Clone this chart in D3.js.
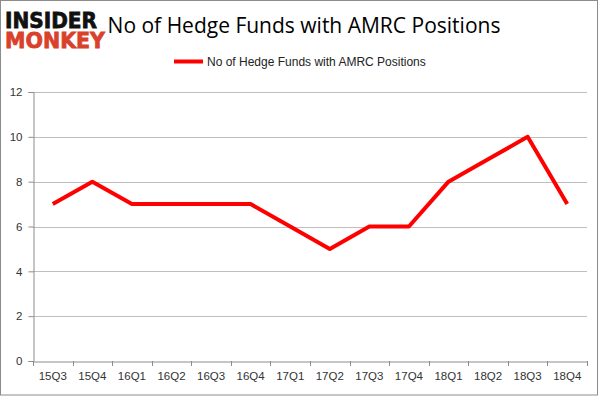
<!DOCTYPE html>
<html><head><meta charset="utf-8">
<script src="https://cdn.jsdelivr.net/npm/d3@7"></script>
<style>body{margin:0;background:#fff}svg{display:block}</style>
</head><body>
<script>
const categories = ["15Q3","15Q4","16Q1","16Q2","16Q3","16Q4","17Q1","17Q2","17Q3","17Q4","18Q1","18Q2","18Q3","18Q4"];
const values = [7,8,7,7,7,7,6,5,6,6,8,9,10,7];
const yTicks = [0,2,4,6,8,10,12];
const seriesName = "No of Hedge Funds with AMRC Positions";
const titleText = "No of Hedge Funds with AMRC Positions";

const W = 601, H = 396;
const svg = d3.select("body").append("svg").attr("width", W).attr("height", H);
svg.append("rect").attr("x",0.5).attr("y",0.5).attr("width",597).attr("height",394.5)
  .attr("fill","#fff").attr("stroke","#8c8c8c").attr("stroke-width",1);

const pLeft = 33, pRight = 587, pTop = 92, pBottom = 361;
const x = d3.scaleBand().domain(categories).range([pLeft, pRight]);
const y = d3.scaleLinear().domain([0, 12]).range([pBottom, pTop]);

// gridlines
svg.append("g").selectAll("line").data(yTicks.filter(d => d > 0)).join("line")
  .attr("x1", pLeft).attr("x2", pRight)
  .attr("y1", d => Math.round(y(d)) + 0.5).attr("y2", d => Math.round(y(d)) + 0.5)
  .attr("stroke", "#bfbfbf").attr("stroke-width", 1);

// y axis
const yAxis = svg.append("g").attr("transform", `translate(${pLeft + 0.5},0)`)
  .call(d3.axisLeft(y).tickValues(yTicks).tickSize(5).tickPadding(6));
yAxis.select(".domain").attr("stroke", "#8c8c8c");
yAxis.selectAll(".tick line").attr("stroke", "#8c8c8c");
yAxis.selectAll("text").attr("font-family", "Liberation Sans, Arial, sans-serif").attr("font-size", 11.5).attr("fill", "#333");

// x axis
const xAxis = svg.append("g").attr("transform", `translate(0,${Math.round(pBottom) + 0.5})`)
  .call(d3.axisBottom(x).tickSize(0).tickPadding(10));
xAxis.select(".domain").attr("stroke", "#8c8c8c");
xAxis.selectAll("text").attr("font-family", "Liberation Sans, Arial, sans-serif").attr("font-size", 11.5).attr("fill", "#333");
// category boundary ticks
const bounds = categories.map(c => x(c)).concat([pRight]);
svg.append("g").selectAll("line").data(bounds).join("line")
  .attr("x1", d => Math.round(d) + 0.5).attr("x2", d => Math.round(d) + 0.5)
  .attr("y1", pBottom).attr("y2", pBottom + 5)
  .attr("stroke", "#8c8c8c");

// line
const line = d3.line().x((d, i) => x(categories[i]) + x.bandwidth() / 2).y(d => y(d));
svg.append("path").datum(values).attr("d", line)
  .attr("fill", "none").attr("stroke", "#ff0000").attr("stroke-width", 4)
  .attr("stroke-linejoin", "round").attr("stroke-linecap", "butt");

// title
svg.append("text").attr("x", 304).attr("y", 33).attr("text-anchor", "middle")
  .attr("font-family", "Open Sans, Liberation Sans, sans-serif").attr("font-size", 21).attr("fill", "#000")
  .text(titleText);

// legend
svg.append("line").attr("x1", 174).attr("x2", 203).attr("y1", 61.5).attr("y2", 61.5)
  .attr("stroke", "#ff0000").attr("stroke-width", 4);
svg.append("text").attr("x", 207).attr("y", 66)
  .attr("font-family", "Liberation Sans, Arial, sans-serif").attr("font-size", 12).attr("fill", "#222")
  .text(seriesName);

// logo
const logo = svg.append("g");
logo.append("rect").attr("x", 4).attr("y", 6).attr("width", 102).attr("height", 44).attr("fill", "#fff");
logo.append("text").attr("x", 5).attr("y", 28).attr("font-family", "DejaVu Sans, sans-serif")
  .attr("font-weight", 900).attr("font-size", 22).attr("fill", "#111").attr("textLength", 92)
  .attr("lengthAdjust", "spacingAndGlyphs").attr("stroke", "#111").attr("stroke-width", 0.8).text("INSIDER");
logo.append("text").attr("x", 5).attr("y", 48).attr("font-family", "DejaVu Sans, sans-serif")
  .attr("font-weight", 900).attr("font-size", 22).attr("fill", "#d9412b").attr("textLength", 100)
  .attr("lengthAdjust", "spacingAndGlyphs").attr("stroke", "#d9412b").attr("stroke-width", 0.8).text("MONKEY");
</script>
</body></html>
